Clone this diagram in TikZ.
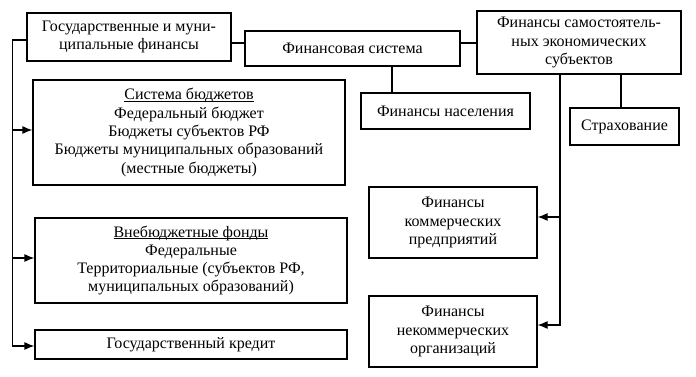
\documentclass[tikz,border=0pt]{standalone}
\usepackage{fontspec}
\setmainfont{Liberation Serif}
\usetikzlibrary{arrows.meta, positioning}
\newcommand{\headline}[1]{\underline{\raisebox{0pt}[\height][0pt]{#1}}}
\tikzset{
  every picture/.style={x=1pt, y=-1pt, line width=1.2pt},
  box/.style={draw, align=center, inner sep=2pt, font=\fontsize{16}{18.3}\selectfont},
  link/.style={draw},
  arrow/.style={-{Latex[length=10pt, width=8pt]}, draw},
}
\begin{document}
\begin{tikzpicture}
  \useasboundingbox (0,0) rectangle (696,377);
  % ---- top row: the financial system and its three spheres ----
  \node[box, minimum width=204pt, minimum height=48pt] (gov) at (129,37) {Государственные и муни-\\ципальные финансы};
  \node[box, minimum width=215pt, minimum height=35pt] (finsys) at (352.5,48.5) {Финансовая система};
  \node[box, minimum width=204pt, minimum height=63pt] (samost) at (579,42.5) {Финансы самостоятель-\\ных экономических\\субъектов};
  \node[box, minimum width=169pt, minimum height=36pt] (nasel) at (445.5,111) {Финансы населения};
  \node[box, minimum width=109pt, minimum height=37pt] (strakh) at (624.5,126.5) {Страхование};
  % ---- left column: public finance ----
  \node[box, minimum width=312pt, minimum height=105pt] (budget) at (189,132.5) {\headline{Система бюджетов}\\Федеральный бюджет\\Бюджеты субъектов РФ\\Бюджеты муниципальных образований\\(местные бюджеты)};
  \node[box, minimum width=312pt, minimum height=85pt] (vneb) at (191,260.5) {\headline{Внебюджетные фонды}\\Федеральные\\Территориальные (субъектов РФ,\\муниципальных образований)};
  \node[box, minimum width=312pt, minimum height=29pt] (kredit) at (191,344.5) {Государственный кредит};
  % ---- right column: enterprises ----
  \node[box, minimum width=168pt, minimum height=71pt] (komm) at (453,222.5) {Финансы\\коммерческих\\предприятий};
  \node[box, minimum width=168pt, minimum height=71pt] (nekomm) at (453,331.5) {Финансы\\некоммерческих\\организаций};
  % ---- links ----
  \draw[link] ([yshift=-6pt]gov.east) coordinate (g1) -- (g1 -| finsys.west);
  \draw[link] ([yshift=5.5pt]finsys.east) coordinate (f1) -- (f1 -| samost.west);
  \draw[link] ([xshift=-53.5pt]nasel.north) coordinate (n1) -- (n1 |- finsys.south);
  \draw[link] ([xshift=-3.5pt]strakh.north) coordinate (s1) -- (s1 |- samost.south);
  \coordinate (rt) at ([xshift=-19pt]samost.south);
  \coordinate (ka) at ([yshift=5.5pt]komm.east);
  \coordinate (na) at ([yshift=6.5pt]nekomm.east);
  \draw[arrow] (rt) |- (na);
  \draw[arrow] (ka -| rt) -- (ka);
  \coordinate (lx) at ([xshift=-14pt]gov.west);
  \draw[arrow] ([yshift=-3pt]gov.west) -| ([yshift=-1.5pt]lx |- kredit.west) -- ([yshift=-1.5pt]kredit.west);
  \draw[arrow] ([yshift=2.5pt]lx |- budget.west) -- ([yshift=2.5pt]budget.west);
  \draw[arrow] ([yshift=2.5pt]lx |- vneb.west) -- ([yshift=2.5pt]vneb.west);
\end{tikzpicture}
\end{document}
